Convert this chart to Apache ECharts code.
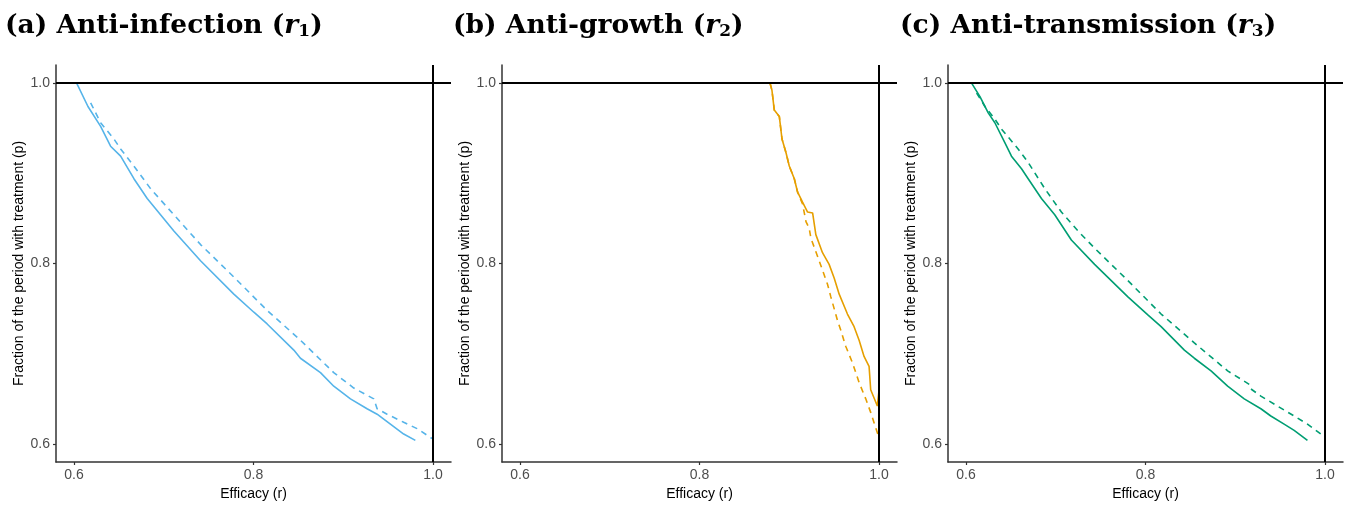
<!DOCTYPE html>
<html><head><meta charset="utf-8">
<script src="https://cdn.jsdelivr.net/npm/echarts@6/dist/echarts.min.js"></script>
<style>html,body{margin:0;padding:0;background:#fff}#c{width:1357px;height:506px}</style>
</head><body><div id="c"></div>
<script>
// ---- data ----
const panelTitles = ['(a) Anti-infection ', '(b) Anti-growth ', '(c) Anti-transmission '];
const panelSubs = ['1', '2', '3'];
const tickValues = [0.6, 0.8, 1.0];
const refLineValue = 1.0;
const colors = ['#56B4E9', '#E69F00', '#009E73'];

const infectionSolid = [[0.603,1.0],[0.6156,0.974],[0.6297,0.952],[0.6408,0.930],[0.652,0.919],[0.6668,0.894],[0.6816,0.872],[0.7113,0.836],[0.741,0.803],[0.7781,0.766],[0.8004,0.746],[0.8152,0.733],[0.8449,0.704],[0.8523,0.695],[0.8746,0.679],[0.8894,0.664],[0.908,0.650],[0.9265,0.639],[0.9377,0.633],[0.9525,0.622],[0.9673,0.611],[0.9803,0.604]];
const infectionDashed = [[0.6186,0.978],[0.6297,0.956],[0.6445,0.938],[0.652,0.927],[0.6668,0.908],[0.6853,0.883],[0.7113,0.854],[0.741,0.821],[0.7781,0.785],[0.8152,0.748],[0.8523,0.715],[0.8894,0.679],[0.9117,0.662],[0.934,0.650],[0.9377,0.639],[0.9488,0.633],[0.9673,0.624],[0.9822,0.617],[0.9989,0.606]];

const growthSolid = [[0.8785,1.0],[0.8807,0.992],[0.8833,0.970],[0.8889,0.963],[0.8919,0.938],[0.8963,0.923],[0.9,0.908],[0.9056,0.894],[0.9093,0.879],[0.9148,0.868],[0.9204,0.857],[0.926,0.856],[0.9296,0.832],[0.937,0.812],[0.9444,0.799],[0.95,0.784],[0.9556,0.766],[0.9648,0.744],[0.9722,0.730],[0.9778,0.715],[0.9833,0.697],[0.9889,0.686],[0.9907,0.660],[0.9981,0.642],[1.0,0.660],[1.0,0.607]];
const growthDashed = [[0.8785,1.0],[0.8807,0.992],[0.8833,0.970],[0.8889,0.963],[0.8919,0.938],[0.8963,0.923],[0.9,0.908],[0.9056,0.894],[0.9093,0.879],[0.9148,0.866],[0.9186,0.8465],[0.9222,0.839],[0.9241,0.828],[0.9333,0.803],[0.9426,0.777],[0.9463,0.763],[0.9537,0.737],[0.9574,0.726],[0.963,0.708],[0.9704,0.690],[0.9778,0.668],[0.9852,0.650],[0.9907,0.635],[0.9956,0.620],[0.9993,0.609]];

const transmissionSolid = [[0.6063,1.0],[0.6156,0.985],[0.6248,0.967],[0.6322,0.956],[0.6433,0.934],[0.6507,0.919],[0.6619,0.905],[0.6693,0.894],[0.6841,0.872],[0.6989,0.854],[0.7174,0.826],[0.7433,0.799],[0.7804,0.763],[0.8026,0.743],[0.8174,0.730],[0.8433,0.704],[0.8544,0.695],[0.873,0.681],[0.8915,0.664],[0.91,0.650],[0.9285,0.639],[0.9396,0.631],[0.9544,0.622],[0.9656,0.615],[0.9804,0.604]];
const transmissionDashed = [[0.6119,0.989],[0.6211,0.974],[0.6322,0.960],[0.6396,0.949],[0.6489,0.938],[0.6581,0.927],[0.6693,0.912],[0.6878,0.883],[0.7063,0.857],[0.7248,0.836],[0.7433,0.817],[0.7804,0.781],[0.8174,0.744],[0.8544,0.712],[0.8915,0.681],[0.9156,0.666],[0.9174,0.661],[0.9285,0.653],[0.947,0.642],[0.9656,0.631],[0.9804,0.622],[0.9952,0.611]];

const solidData = [infectionSolid, growthSolid, transmissionSolid];
const dashedData = [infectionDashed, growthDashed, transmissionDashed];

// ---- layout ----
const gridLefts = [56, 502, 948];
const gridW = 395, gridTop = 65, gridH = 402;
const titleLefts = [5, 453, 900];

const chart = echarts.init(document.getElementById('c'));
const grids = [], xAxes = [], yAxes = [], series = [], titles = [];
const axisCommon = {
  min: 0.58, max: 1.02,
  axisLine: { show: true, onZero: false, lineStyle: { color: '#333333', width: 1.5 } },
  axisTick: { show: true, length: 3, customValues: tickValues, lineStyle: { color: '#333333', width: 1.2 } },
  axisLabel: { customValues: tickValues, color: '#4D4D4D', fontSize: 14, fontFamily: 'Liberation Sans, Arial, sans-serif', formatter: v => v.toFixed(1) },
  splitLine: { show: false },
  nameTextStyle: { color: '#000', fontSize: 14, fontFamily: 'Liberation Sans, Arial, sans-serif' },
  nameLocation: 'middle'
};
const serifFont = 'DejaVu Serif, serif';
for (let i = 0; i < 3; i++) {
  grids.push({ left: gridLefts[i], top: gridTop, width: gridW, height: gridH });
  xAxes.push(Object.assign({}, axisCommon, {
    type: 'value', gridIndex: i, name: 'Efficacy (r)', nameGap: 25,
    axisLabel: Object.assign({}, axisCommon.axisLabel, { margin: 6 })
  }));
  yAxes.push(Object.assign({}, axisCommon, {
    type: 'value', gridIndex: i, name: 'Fraction of the period with treatment (p)', nameGap: 30,
    axisLabel: Object.assign({}, axisCommon.axisLabel, { margin: 6 })
  }));
  titles.push({
    left: titleLefts[i], top: 8, padding: 0,
    text: '{b|' + panelTitles[i] + '}{m|(}{it|r}{s|' + panelSubs[i] + '}{m|)}',
    textStyle: {
      rich: {
        b: { fontFamily: serifFont, fontWeight: 'bold', fontSize: 26.5, color: '#000', lineHeight: 36 },
        m: { fontFamily: serifFont, fontSize: 26.5, color: '#000', lineHeight: 36 },
        it: { fontFamily: serifFont, fontStyle: 'italic', fontSize: 26.5, color: '#000', lineHeight: 36 },
        s: { fontFamily: serifFont, fontSize: 17, color: '#000', lineHeight: 36, padding: [12, 0, 0, 0] }
      }
    }
  });
  series.push({
    type: 'line', xAxisIndex: i, yAxisIndex: i, data: [], silent: true, z: 1,
    markLine: {
      silent: true, symbol: 'none', label: { show: false },
      lineStyle: { color: '#000', width: 2, type: 'solid' },
      data: [{ yAxis: refLineValue }, { xAxis: refLineValue }]
    }
  });
  series.push({
    type: 'line', xAxisIndex: i, yAxisIndex: i, data: solidData[i], showSymbol: false, silent: true, z: 3,
    lineStyle: { color: colors[i], width: 1.6 }
  });
  series.push({
    type: 'line', xAxisIndex: i, yAxisIndex: i, data: dashedData[i], showSymbol: false, silent: true, z: 3,
    lineStyle: { color: colors[i], width: 1.6, type: [6, 5] }
  });
}
chart.setOption({
  animation: false,
  title: titles,
  grid: grids, xAxis: xAxes, yAxis: yAxes, series: series
});
</script></body></html>
